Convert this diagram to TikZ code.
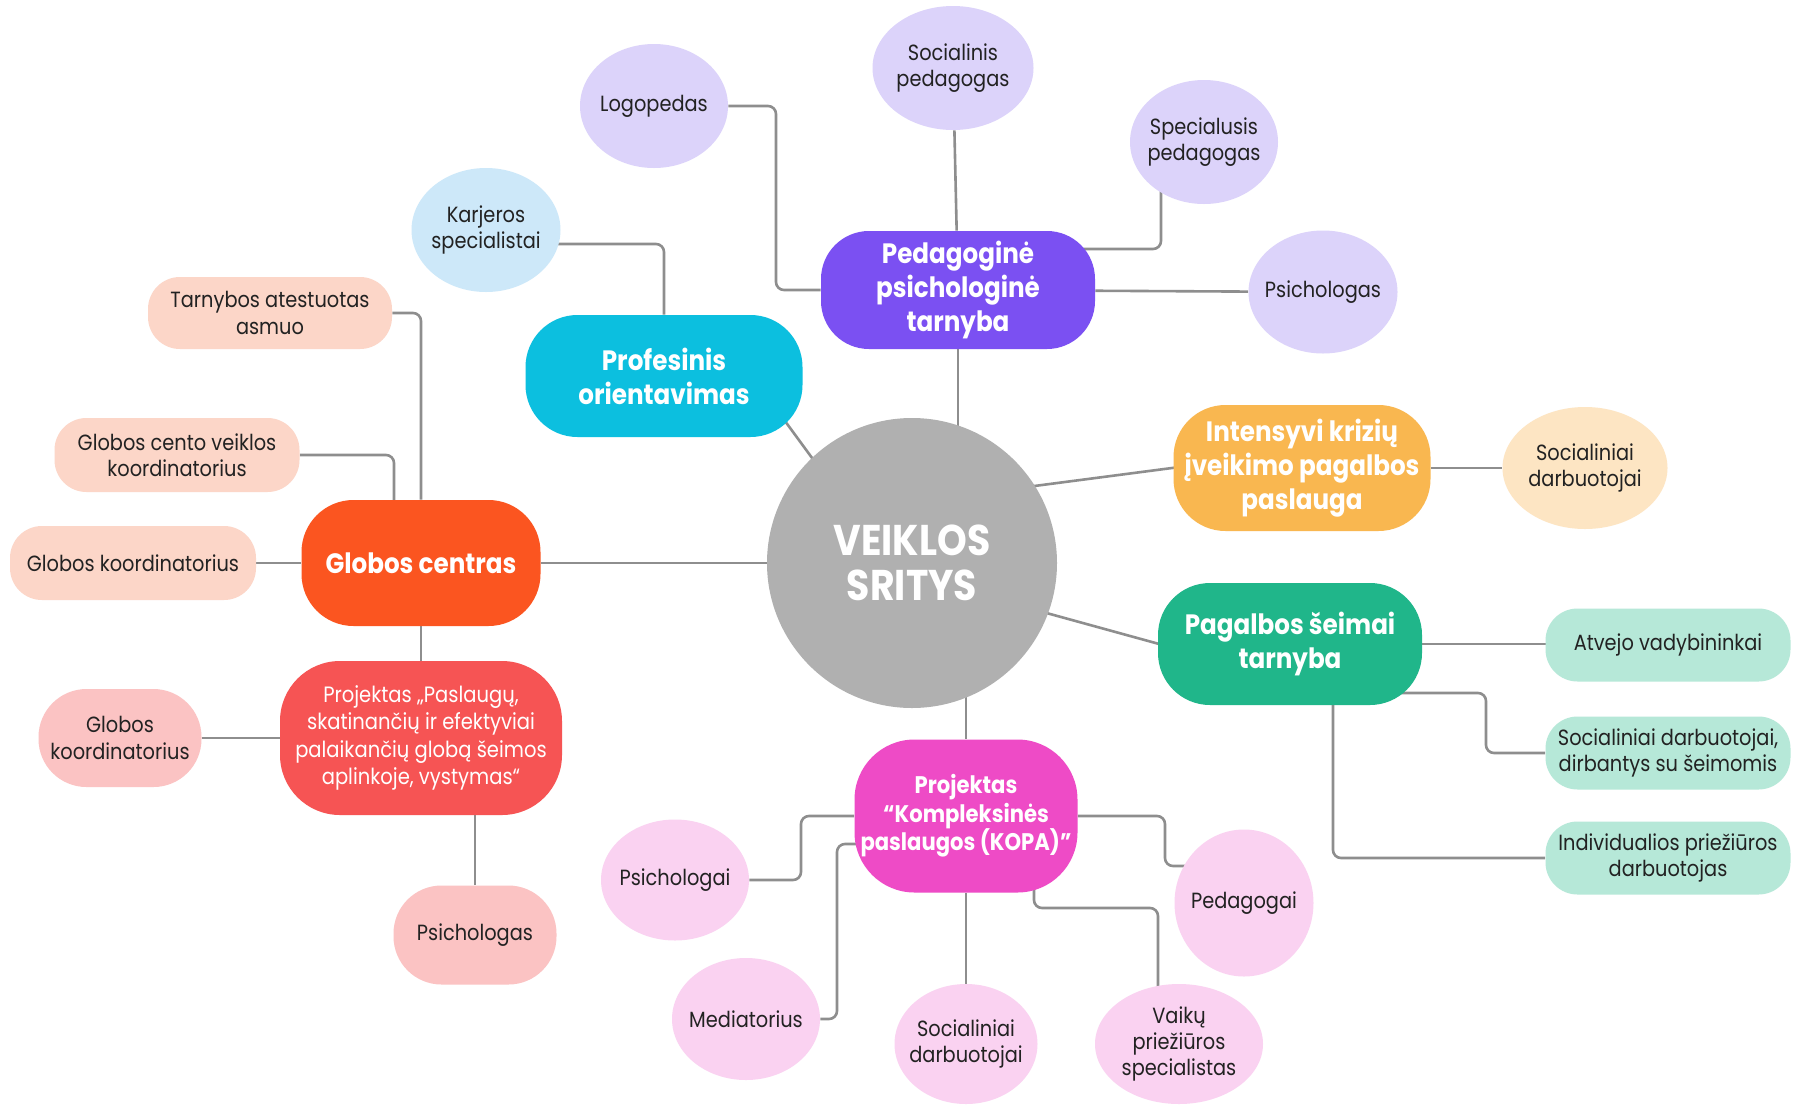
\documentclass[tikz,border=0pt]{standalone}
\usepackage{fontspec}
\setmainfont{Poppins}[FakeStretch=0.88]
\usetikzlibrary{shapes.geometric,backgrounds}
\definecolor{cgray}{HTML}{B0B0B0}
\definecolor{cline}{HTML}{8E8E8E}
\definecolor{cpurple}{HTML}{7B50F2}
\definecolor{clav}{HTML}{DCD3FA}
\definecolor{ccyan}{HTML}{0CBFDF}
\definecolor{clblue}{HTML}{CDE8F9}
\definecolor{corange}{HTML}{FB5520}
\definecolor{cpeach}{HTML}{FCD6C8}
\definecolor{cred}{HTML}{F65454}
\definecolor{cpink}{HTML}{FBC3C3}
\definecolor{cyell}{HTML}{F9B750}
\definecolor{clpeach}{HTML}{FDE5C3}
\definecolor{cgreen}{HTML}{20B68A}
\definecolor{cmint}{HTML}{B6E8D8}
\definecolor{cmag}{HTML}{EE4BC6}
\definecolor{clpink}{HTML}{FAD2F1}
\definecolor{ctext}{HTML}{222222}
\newcommand\smallfs{\fontsize{11}{13.2}\selectfont}
\newcommand\headfs{\fontsize{14}{17}\selectfont\bfseries}
\newcommand\projfs{\fontsize{11.1}{13.8}\selectfont}
\newcommand\kopafs{\fontsize{12}{14.3}\selectfont\bfseries}
\newcommand\centfs{\fontsize{21.5}{22.5}\selectfont\bfseries}
\tikzset{
  conn/.style={draw=cline,line width=1.3pt,rounded corners=4pt},
  leafell/.style={ellipse,inner sep=-20pt,align=center,text=ctext,font=\smallfs},
  leafbox/.style={rectangle,rounded corners=16pt,inner sep=0pt,align=center,text=ctext,font=\smallfs,minimum width=122.5pt,minimum height=36.5pt},
  headbox/.style={rectangle,rounded corners=26pt,inner sep=0pt,align=center,text=white,font=\headfs},
}
\begin{document}
\begin{tikzpicture}[x=0.5pt,y=-0.5pt]
\useasboundingbox (0,0) rectangle (1794,1104);
% centre
\node[circle,fill=cgray,minimum size=145pt,inner sep=0pt,align=center,text=white,font=\centfs] (center) at (912,563) {VEIKLOS\\SRITYS};
% pedagogine psichologine tarnyba
\node[headbox,fill=cpurple,minimum width=137pt,minimum height=59pt,rounded corners=24pt] (ped) at (958,290) {Pedagoginė\\psichologinė\\tarnyba};
\node[leafell,fill=clav,minimum width=74pt,minimum height=62pt] (logo) at (654,106) {Logopedas};
\node[leafell,fill=clav,minimum width=80.5pt,minimum height=62pt] (socped) at (953,68) {Socialinis\\pedagogas};
\node[leafell,fill=clav,minimum width=74pt,minimum height=62pt] (specped) at (1204,142) {Specialusis\\pedagogas};
\node[leafell,fill=clav,minimum width=74.5pt,minimum height=61.5pt] (psich1) at (1323,292) {Psichologas};
% profesinis
\node[headbox,fill=ccyan,minimum width=138.5pt,minimum height=61pt] (prof) at (664,376) {Profesinis\\orientavimas};
\node[leafell,fill=clblue,minimum width=74.5pt,minimum height=62pt] (karj) at (486,230) {Karjeros\\specialistai};
% globos centras
\node[headbox,fill=corange,minimum width=119.5pt,minimum height=63pt] (glob) at (421,563) {Globos centras};
\node[leafbox,fill=cpeach,minimum width=122pt,minimum height=36pt] (tarn) at (270,313) {Tarnybos atestuotas\\asmuo};
\node[leafbox,fill=cpeach,minimum height=37pt] (gcvk) at (177,455) {Globos cento veiklos\\koordinatorius};
\node[leafbox,fill=cpeach,minimum width=123pt,minimum height=37pt] (gk1) at (133,563) {Globos koordinatorius};
\node[rectangle,rounded corners=30pt,inner sep=0pt,align=center,text=white,font=\projfs,fill=cred,minimum width=141pt,minimum height=77pt] (proj1) at (421,738) {Projektas „Paslaugų,\\skatinančių ir efektyviai\\palaikančių globą šeimos\\aplinkoje, vystymas“};
\node[leafbox,fill=cpink,rounded corners=24pt,minimum width=81.5pt,minimum height=49pt] (gk2) at (120,738) {Globos\\koordinatorius};
\node[leafbox,fill=cpink,rounded corners=24pt,minimum width=81.5pt,minimum height=49.5pt] (psich2) at (475,935) {Psichologas};
% intensyvi
\node[headbox,fill=cyell,minimum width=128.5pt,minimum height=63pt] (intens) at (1302,468) {Intensyvi krizių\\įveikimo pagalbos\\paslauga};
\node[leafell,fill=clpeach,minimum width=82.5pt,minimum height=61pt] (socd1) at (1585,468) {Socialiniai\\darbuotojai};
% pagalbos seimai
\node[headbox,fill=cgreen,minimum width=132pt,minimum height=61pt] (pag) at (1290,644) {Pagalbos šeimai\\tarnyba};
\node[leafbox,fill=cmint] (atv) at (1668,645) {Atvejo vadybininkai};
\node[leafbox,fill=cmint] (sdss) at (1668,753) {Socialiniai darbuotojai,\\dirbantys su šeimomis};
\node[leafbox,fill=cmint] (ipd) at (1668,858) {Individualios priežiūros\\darbuotojas};
% KOPA
\node[rectangle,rounded corners=30pt,inner sep=0pt,align=center,text=white,font=\kopafs,fill=cmag,minimum width=111.5pt,minimum height=76.5pt] (kopa) at (966,816) {Projektas\\“Kompleksinės\\paslaugos (KOPA)”};
\node[leafell,fill=clpink,minimum width=74pt,minimum height=60.5pt] (psigai) at (675,880) {Psichologai};
\node[leafell,fill=clpink,minimum width=74pt,minimum height=61pt] (med) at (746,1019) {Mediatorius};
\node[leafell,fill=clpink,minimum width=71.5pt,minimum height=60pt] (socd2) at (966,1044) {Socialiniai\\darbuotojai};
\node[leafell,fill=clpink,minimum width=84pt,minimum height=60pt] (vaik) at (1179,1044) {Vaikų\\priežiūros\\specialistas};
\node[leafell,fill=clpink,minimum width=69.5pt,minimum height=73.5pt] (peda) at (1244,903) {Pedagogai};
\begin{pgfonlayer}{background}
\fill[white] (0,0) rectangle (1794,1104);
% pedagogine
\draw[conn] (logo) -| (776,0 |- ped) -- (ped);
\draw[conn] (socped) -- (ped);
\draw[conn] (specped.center -| 1161,0) |- (ped.center |- 0,249);
\draw[conn] (ped) -- (psich1);
\draw[conn] (ped) -- (ped |- center);
% profesinis
\draw[conn] (karj.center |- 0,244) -| (prof);
\draw[conn] (prof.center -| 752,0) -- (center.center -| 889,0);
% globos
\draw[conn] (glob) -- (center);
\draw[conn] (tarn) -| (glob);
\draw[conn] (gcvk) -| (glob.center -| 394,0);
\draw[conn] (gk1) -- (glob);
\draw[conn] (glob) -- (proj1);
\draw[conn] (gk2) -- (proj1);
\draw[conn] (psich2) -- (psich2 |- proj1);
% intensyvi
\draw[conn] (center.center |- 0,502) -- (intens.center |- 0,451);
\draw[conn] (intens) -- (socd1);
% pagalbos
\draw[conn] (center.center |- 0,576) -- (pag.center |- 0,680);
\draw[conn] (pag) -- (pag -| atv);
\draw[conn] (pag.center |- 0,693) -| (1486,0 |- sdss) -- (sdss);
\draw[conn] (pag.center -| 1333,0) |- (ipd);
% kopa
\draw[conn] (center.center -| 966,0) -- (kopa);
\draw[conn] (psigai) -| (801,0 |- kopa) -- (kopa);
\draw[conn] (med) -| (837,844) -- (kopa.center |- 0,844);
\draw[conn] (kopa) -- (socd2);
\draw[conn] (kopa.center -| 1034,0) |- (1158,908) -- (vaik.center -| 1158,0);
\draw[conn] (kopa) -| (1165,866) -- (peda.center |- 0,866);
\end{pgfonlayer}
\end{tikzpicture}
\end{document}
